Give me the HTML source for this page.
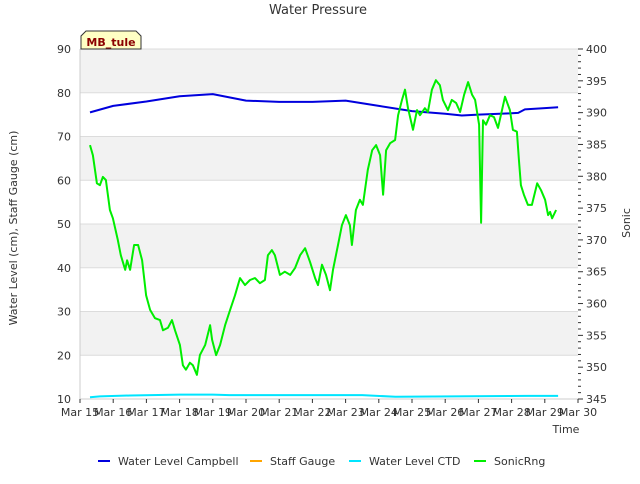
<!DOCTYPE html>
<html><head><meta charset="utf-8"><style>
body{margin:0;background:#fff;font-family:"DejaVu Sans","Liberation Sans",sans-serif}
</style></head><body>
<svg id="chart" width="640" height="480" xmlns="http://www.w3.org/2000/svg" font-family="DejaVu Sans, Liberation Sans, sans-serif">
<g id="bands"></g><g id="grid"></g><g id="series"></g><g id="axes"></g>
</svg>
<script>
const xTickLabels=["Mar 15","Mar 16","Mar 17","Mar 18","Mar 19","Mar 20","Mar 21","Mar 22","Mar 23","Mar 24","Mar 25","Mar 26","Mar 27","Mar 28","Mar 29","Mar 30"];
const leftTicks=[10,20,30,40,50,60,70,80,90];
const rightTicks=[345,350,355,360,365,370,375,380,385,390,395,400];
const campDays=[0.3,1,2,3,4,5,6,7,8,9,10,11,11.5,12,13,13.2,13.4,14,14.4];
const campVals=[75.5,77,78,79.2,79.7,78.2,77.9,77.9,78.2,77.0,75.8,75.2,74.8,75.0,75.3,75.4,76.2,76.5,76.7];
const ctdDays=[0.3,0.6,1.5,3,4,4.5,8.5,9.5,13.5,14.4];
const ctdVals=[10.4,10.6,10.8,11.0,11.0,10.9,10.9,10.5,10.7,10.7];
const sonicDays=[0.30,0.39,0.51,0.60,0.69,0.78,0.90,0.99,1.14,1.23,1.36,1.42,1.51,1.63,1.75,1.87,1.99,2.11,2.26,2.41,2.50,2.65,2.77,2.86,3.01,3.10,3.19,3.31,3.40,3.52,3.61,3.77,3.92,3.98,4.10,4.22,4.37,4.52,4.67,4.82,4.97,5.12,5.27,5.42,5.57,5.66,5.78,5.87,6.02,6.17,6.33,6.48,6.63,6.78,6.93,7.08,7.17,7.29,7.41,7.53,7.62,7.77,7.89,8.01,8.13,8.19,8.31,8.43,8.52,8.67,8.80,8.92,9.04,9.13,9.22,9.34,9.49,9.58,9.70,9.79,9.88,10.03,10.15,10.24,10.39,10.48,10.60,10.72,10.84,10.93,11.08,11.20,11.33,11.45,11.57,11.69,11.81,11.90,12.02,12.08,12.14,12.23,12.35,12.47,12.59,12.71,12.80,12.95,13.04,13.16,13.22,13.28,13.37,13.49,13.61,13.77,13.89,14.01,14.10,14.16,14.22,14.34];
const sonicVals=[384.9,383.3,378.9,378.6,379.9,379.4,374.7,373.4,370.0,367.6,365.3,366.8,365.3,369.2,369.2,366.8,361.3,359.0,357.7,357.4,355.8,356.2,357.4,355.8,353.5,350.3,349.6,350.7,350.3,348.8,351.9,353.5,356.6,354.3,351.9,353.5,356.6,359.0,361.3,364.0,362.9,363.7,364.0,363.2,363.7,367.6,368.4,367.6,364.5,365.0,364.5,365.6,367.6,368.7,366.5,364.0,362.9,366.1,364.5,362.1,365.3,369.2,372.3,373.9,372.3,369.2,374.7,376.3,375.5,381.0,384.1,384.9,383.3,377.1,384.1,385.2,385.7,389.6,392.0,393.6,390.7,387.3,390.4,389.6,390.7,390.1,393.6,395.1,394.3,392.0,390.4,392.0,391.5,390.1,392.8,394.8,392.8,392.0,388.1,372.7,388.8,388.1,389.6,389.3,387.6,390.4,392.5,390.4,387.3,387.0,382.6,378.6,377.1,375.5,375.5,378.9,377.8,376.3,373.9,374.4,373.4,374.7];

const L=80,R=578,T=49,B=399,NS="http://www.w3.org/2000/svg";
const xS=d=>L+d*(R-L)/15, yL=v=>B-(v-10)*(B-T)/80, yR=v=>B-(v-345)*(B-T)/55;
function mk(tag,attrs,parent,text){const e=document.createElementNS(NS,tag);for(const k in attrs)e.setAttribute(k,attrs[k]);if(text!==undefined)e.textContent=text;document.getElementById(parent).appendChild(e);return e;}
[80,60,40,20].forEach(v=>{const r=mk('rect',{x:L,y:yL(v+10),width:R-L,height:yL(v)-yL(v+10),fill:'#f2f2f2'},'bands');

});
leftTicks.forEach(v=>{const l=mk('line',{x1:L,x2:R,y1:yL(v),y2:yL(v),stroke:'#dcdcdc','stroke-width':1},'grid');

});
function line(days,vals,ys,color,w,name){const d=days.map((x,i)=>(i?'L':'M')+xS(x).toFixed(1)+','+ys(vals[i]).toFixed(1)).join('');
const p=mk('path',{d:d,fill:'none',stroke:color,'stroke-width':w,'stroke-linejoin':'round'},'series');

}
line(ctdDays,ctdVals,yL,'#00e5ff',2,'water-level-ctd-line');
line(campDays,campVals,yL,'#0000dd',2,'water-level-campbell-line');
line(sonicDays,sonicVals,yR,'#00ee00',2,'sonicrng-line');
mk('line',{x1:L,x2:L,y1:T,y2:B,stroke:'#ccc'},'axes');
mk('line',{x1:L,x2:R,y1:B,y2:B,stroke:'#ccc'},'axes');
leftTicks.forEach(v=>{const t=mk('text',{x:71,y:yL(v)+4,'font-size':11,'text-anchor':'end',fill:'#333'},'axes',v);

});
for(let v=345;v<=400;v++){const major=v%5===0;mk('line',{x1:R,x2:R+(major?5:3),y1:yR(v),y2:yR(v),stroke:'#333'},'axes');}
rightTicks.forEach(v=>{const t=mk('text',{x:586,y:yR(v)+4,'font-size':11,fill:'#333'},'axes',v);

});
xTickLabels.forEach((s,i)=>{mk('line',{x1:xS(i),x2:xS(i),y1:B,y2:B+4,stroke:'#333'},'axes');
const t=mk('text',{x:xS(i),y:416,'font-size':11,'text-anchor':'middle',fill:'#333'},'axes',s);

});
</script>
<svg style="position:absolute;left:0;top:0" width="640" height="480" xmlns="http://www.w3.org/2000/svg" font-family="DejaVu Sans, Liberation Sans, sans-serif">
<text x="318" y="14" font-size="13" text-anchor="middle" fill="#333">Water Pressure</text>
<text x="566" y="433" font-size="11" text-anchor="middle" fill="#333">Time</text>
<text transform="translate(17,228) rotate(-90)" font-size="11" text-anchor="middle" fill="#333">Water Level (cm), Staff Gauge (cm)</text>
<text transform="translate(630,223) rotate(-90)" font-size="11" text-anchor="middle" fill="#333">Sonic</text>
<g>
<path d="M81,49 L81,36 L86,31 L136,31 L141,36 L141,49 Z" fill="#ffffc4" stroke="#333" stroke-width="1"/>
<text x="111" y="46" font-size="11" font-weight="bold" text-anchor="middle" fill="#8b0000">MB_tule</text></g>
<g font-size="11" fill="#333">
<g><line x1="98" x2="110" y1="461" y2="461" stroke="#0000dd" stroke-width="2"/><text x="118" y="465">Water Level Campbell</text></g>
<g><line x1="250" x2="262" y1="461" y2="461" stroke="#ffa500" stroke-width="2"/><text x="270" y="465">Staff Gauge</text></g>
<g><line x1="349" x2="361" y1="461" y2="461" stroke="#00e5ff" stroke-width="2"/><text x="369" y="465">Water Level CTD</text></g>
<g><line x1="474" x2="486" y1="461" y2="461" stroke="#00ee00" stroke-width="2"/><text x="494" y="465">SonicRng</text></g>
</g>
</svg>
</body></html>
